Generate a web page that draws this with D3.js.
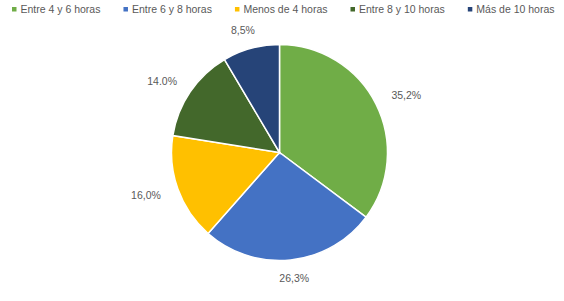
<!DOCTYPE html>
<head>
    <meta charset="utf-8">
    <title>Horas de sueño</title>
    <style>
        body { margin: 0; background: #fff; }
        text { font-family: "Liberation Sans", Arial, sans-serif; fill: #595959; }
    </style>
</head>
<body>
    <svg width="564" height="301"></svg>

    <script src="https://d3js.org/d3.v7.min.js"></script>
    <script>

        var categories = ["Entre 4 y 6 horas", "Entre 6 y 8 horas", "Menos de 4 horas", "Entre 8 y 10 horas", "Más de 10 horas"];
        var values = [35.2, 26.3, 16.0, 14.0, 8.5];
        var labels = ["35,2%", "26,3%", "16,0%", "14.0%", "8,5%"];
        var colors = ["#70AD47", "#4472C4", "#FFC000", "#43682B", "#264478"];

        var svg = d3.select("svg"),
            cx = 279.5, cy = 152.5, radius = 108;

        var z = d3.scaleOrdinal().domain(categories).range(colors);

        var data = categories.map(function (c, i) { return { name: c, value: values[i], label: labels[i] }; });

        var pie = d3.pie().sort(null).value(function (d) { return d.value; });
        var arc = d3.arc().innerRadius(0).outerRadius(radius);

        var g = svg.append("g")
            .attr("transform", "translate(" + cx + "," + cy + ")");

        var arcs = pie(data);

        g.selectAll(".slice")
            .data(arcs)
            .enter().append("path")
            .attr("class", "slice")
            .attr("d", arc)
            .style("fill", function (d) { return z(d.data.name); })
            .style("stroke", "#fff")
            .style("stroke-width", 1.5);

        // labels just outside the edge, pushed out by half the text box
        g.selectAll(".lbl")
            .data(arcs)
            .enter().append("text")
            .attr("class", "lbl")
            .style("font-size", "10.5px")
            .attr("text-anchor", "middle")
            .attr("dy", ".35em")
            .text(function (d) { return d.data.label; })
            .each(function (d) {
                var a = (d.startAngle + d.endAngle) / 2,
                    w = this.getComputedTextLength(),
                    h = 10,
                    r = radius + 14;
                var x = Math.sin(a) * (r + w / 2 + 5),
                    y = -Math.cos(a) * (r + h / 2);
                d3.select(this).attr("x", x).attr("y", y);
            });

        // legend across the top
        var legend = svg.append("g").attr("class", "legend");
        var lx = 12;
        categories.forEach(function (c) {
            var item = legend.append("g").attr("transform", "translate(" + lx + ",0)");
            item.append("rect")
                .attr("x", 0).attr("y", 7)
                .attr("width", 4.5).attr("height", 4.5)
                .style("fill", z(c));
            var t = item.append("text")
                .attr("x", 8.5).attr("y", 13)
                .style("font-size", "10.5px")
                .text(c);
            lx += 8.5 + t.node().getComputedTextLength() + 23;
        });

    </script>
</body>
